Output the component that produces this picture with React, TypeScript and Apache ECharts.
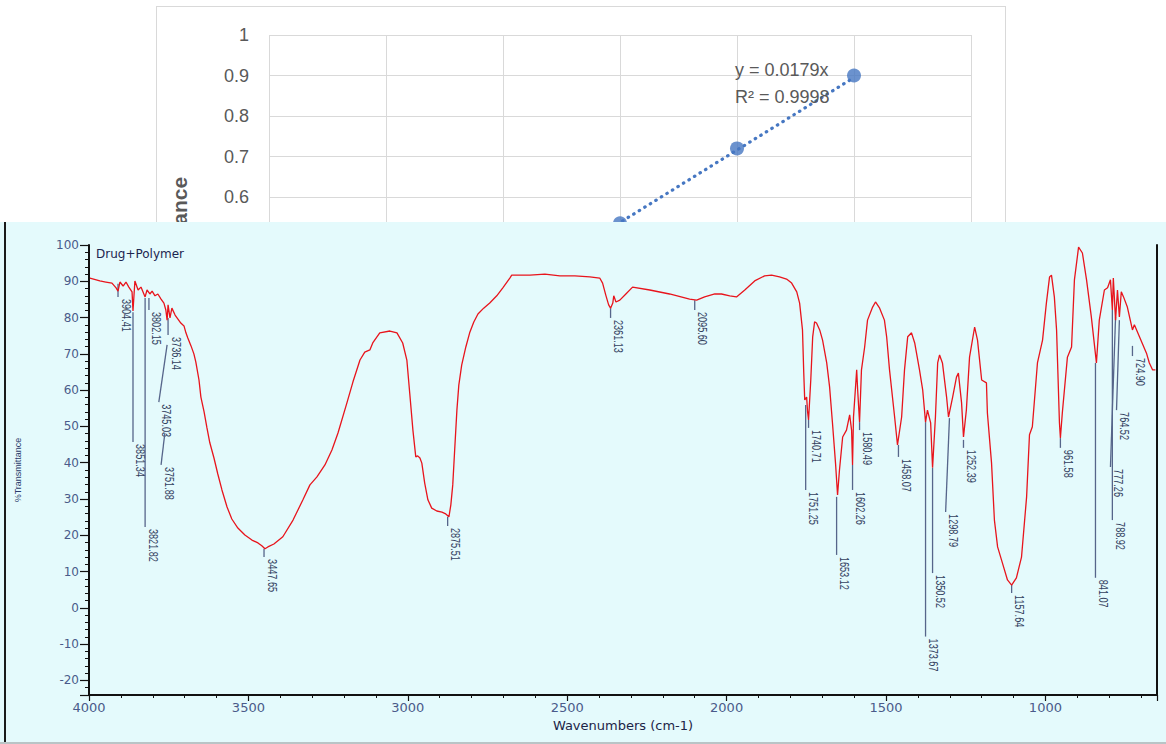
import React, { useEffect, useRef } from "react";
import * as echarts from "echarts";

// ---------- calibration chart (top, partly covered) ----------
const calConc = [30, 40, 50];
const calAbs = [0.535, 0.72, 0.9];
const trendConc = [0, 50];
const trendAbs = [0, 0.895];
const equationLines = ["y = 0.0179x", "R² = 0.9998"];

// ---------- FTIR spectrum ----------
const wavenumbers = [
  3997, 3966, 3947, 3928, 3915, 3909, 3903, 3893, 3884, 3875,
  3865, 3862, 3856, 3846, 3837, 3824, 3818, 3809, 3802, 3793,
  3784, 3774, 3765, 3759, 3755, 3752, 3746, 3740, 3730, 3721,
  3712, 3702, 3696, 3690, 3680, 3671, 3665, 3655, 3649, 3639,
  3630, 3621, 3608, 3596, 3583, 3567, 3552, 3533, 3511, 3489,
  3470, 3458, 3448, 3439, 3420, 3392, 3360, 3329, 3307, 3285,
  3260, 3238, 3219, 3191, 3172, 3150, 3135, 3119, 3110, 3088,
  3056, 3034, 3016, 3003, 2994, 2984, 2975, 2969, 2962, 2956,
  2947, 2937, 2925, 2909, 2893, 2881, 2871, 2865, 2859, 2853,
  2846, 2840, 2831, 2818, 2806, 2793, 2780, 2762, 2743, 2721,
  2702, 2680, 2674, 2617, 2570, 2523, 2476, 2429, 2398, 2389,
  2379, 2370, 2364, 2357, 2354, 2347, 2335, 2316, 2295, 2241,
  2179, 2116, 2094, 2069, 2037, 2016, 1990, 1969, 1943, 1912,
  1881, 1859, 1834, 1812, 1796, 1780, 1771, 1762, 1758, 1755,
  1749, 1746, 1743, 1736, 1730, 1724, 1718, 1708, 1699, 1686,
  1677, 1668, 1658, 1652, 1646, 1636, 1624, 1614, 1608, 1605,
  1602, 1592, 1589, 1583, 1577, 1567, 1558, 1542, 1533, 1520,
  1505, 1498, 1489, 1473, 1464, 1451, 1442, 1432, 1420, 1410,
  1395, 1385, 1376, 1370, 1360, 1354, 1345, 1338, 1332, 1323,
  1310, 1304, 1291, 1279, 1273, 1263, 1257, 1248, 1238, 1222,
  1213, 1200, 1185, 1182, 1169, 1160, 1150, 1135, 1119, 1106,
  1091, 1075, 1059, 1050, 1041, 1025, 1009, 997, 987, 981,
  972, 965, 956, 953, 947, 931, 918, 909, 896, 884,
  871, 856, 840, 831, 815, 805, 796, 790, 787, 780,
  774, 768, 762, 755, 743, 727, 721, 705, 683, 674,
  664, 655,
];
const transmittance = [
  90.9, 90.1, 89.8, 89.5, 88.2, 87.3, 89.8, 88.7, 89.8, 88.4,
  87.1, 81.8, 90.1, 87.6, 88.4, 85.7, 87.6, 86.5, 87.3, 86.0,
  86.5, 85.1, 84.0, 82.1, 79.3, 83.5, 79.9, 82.6, 80.7, 79.6,
  78.5, 77.7, 75.8, 74.4, 72.2, 70.0, 67.8, 62.8, 58.1, 54.0,
  49.6, 45.5, 41.3, 36.9, 32.5, 27.8, 24.5, 22.0, 20.1, 18.7,
  17.9, 17.1, 16.3, 16.8, 17.6, 19.6, 24.2, 29.8, 33.9, 36.1,
  39.4, 43.5, 48.2, 56.5, 62.3, 68.3, 70.5, 71.1, 73.0, 75.8,
  76.3, 75.8, 73.0, 68.3, 59.2, 49.0, 41.6, 41.9, 41.3, 39.9,
  34.4, 29.8, 27.5, 26.7, 26.4, 25.9, 25.1, 28.4, 33.9, 43.5,
  54.5, 61.4, 66.9, 71.9, 75.8, 78.8, 81.0, 82.6, 84.0, 86.0,
  88.2, 90.9, 91.7, 91.7, 92.0, 91.5, 91.5, 91.2, 90.9, 89.5,
  86.2, 83.5, 82.6, 84.0, 86.0, 84.3, 84.8, 86.5, 88.4, 87.6,
  86.5, 85.1, 84.8, 85.7, 86.5, 86.5, 86.0, 85.7, 87.6, 90.1,
  91.5, 91.7, 91.2, 90.6, 89.5, 87.1, 84.0, 76.6, 64.7, 57.3,
  58.1, 54.0, 51.8, 62.8, 74.7, 78.8, 78.5, 76.6, 73.8, 67.5,
  60.9, 51.0, 39.4, 31.1, 38.0, 47.1, 49.0, 53.2, 49.0, 39.4,
  52.6, 65.6, 60.1, 51.2, 65.6, 71.9, 79.3, 82.9, 84.3, 82.6,
  79.3, 74.7, 65.6, 52.6, 44.9, 52.6, 65.6, 74.7, 75.8, 73.0,
  65.6, 60.1, 51.2, 54.5, 51.0, 38.6, 52.6, 67.5, 69.7, 67.5,
  58.1, 52.6, 58.1, 63.6, 64.7, 56.5, 47.1, 54.5, 69.1, 77.4,
  73.8, 62.8, 62.0, 53.7, 39.9, 24.2, 16.8, 12.4, 7.7, 6.3,
  8.3, 14.0, 30.6, 47.7, 49.9, 67.5, 73.8, 84.0, 91.2, 91.7,
  85.7, 76.6, 51.0, 46.8, 53.7, 69.1, 71.9, 90.4, 99.4, 97.8,
  90.4, 80.2, 67.5, 79.3, 87.6, 88.2, 90.4, 82.1, 90.9, 79.3,
  87.6, 80.2, 87.1, 85.7, 82.9, 76.6, 78.0, 74.7, 70.2, 67.5,
  65.6, 65.6,
];

// peak markers: leader line from (topWn, topT) to (botWn, botT), label below
const peakLabels = [
  "3904.41", "3851.34", "3821.82", "3802.15", "3736.14", "3745.03", "3751.88",
  "3447.65", "2875.51", "2361.13", "2095.60", "1751.25", "1740.71", "1653.12",
  "1602.26", "1580.49", "1458.07", "1373.67", "1350.52", "1298.79", "1252.39",
  "1157.64", "961.58", "841.07", "788.92", "777.26", "764.52", "724.90",
];
const peakTopWn = [3909, 3862, 3824, 3812, 3752, 3755, 3762, 3451, 2875, 2364, 2100, 1752, 1743, 1655, 1605, 1583, 1461, 1376, 1354, 1301, 1257, 1106, 953, 843, 790, 780, 768, 727];
const peakTopT = [89.3, 81.5, 85.4, 85.4, 79.9, 72.5, 48.2, 16.3, 25.1, 82.6, 84.8, 55.9, 51.8, 30.6, 39.4, 51.2, 44.9, 51.2, 38.6, 52.3, 46.3, 6.3, 46.8, 67.5, 82.1, 80.2, 79.3, 72.2];
const peakBotWn = [3909, 3862, 3824, 3812, 3752, 3781, 3774, 3451, 2875, 2364, 2100, 1752, 1743, 1655, 1605, 1583, 1461, 1376, 1354, 1313, 1257, 1106, 953, 843, 790, 796, 777, 727];
const peakBotT = [85.7, 45.7, 22.3, 82.1, 75.2, 56.7, 39.4, 14.0, 22.6, 79.9, 82.1, 32.5, 49.6, 14.6, 32.5, 49.0, 41.6, -7.9, 9.6, 26.4, 44.1, 4.1, 44.1, 8.3, 24.2, 38.8, 54.5, 69.4];

const spectrumTitle = "Drug+Polymer";

const excelFont = "'Liberation Sans', Arial, sans-serif";
const irFont = "'DejaVu Sans', sans-serif";

function TopChart() {
  const ref = useRef<HTMLDivElement>(null);
  useEffect(() => {
    const chart = echarts.init(ref.current!, null, { renderer: "svg" });
    chart.setOption({
      animation: false,
      backgroundColor: "#ffffff",
      grid: { left: 112, top: 28, width: 702, height: 405 },
      xAxis: {
        type: "value", min: 0, max: 60, interval: 10,
        axisLine: { show: false }, axisTick: { show: false }, axisLabel: { show: false },
        splitLine: { show: true, lineStyle: { color: "#d9d9d9", width: 1 } },
      },
      yAxis: {
        type: "value", min: 0, max: 1, interval: 0.1,
        name: "Absorbance", nameLocation: "middle", nameGap: 79,
        nameTextStyle: { fontSize: 21, fontWeight: "bold", color: "#595959", fontFamily: excelFont },
        axisLine: { show: false }, axisTick: { show: false },
        axisLabel: { color: "#595959", fontSize: 18, margin: 20, fontFamily: excelFont },
        splitLine: { show: true, lineStyle: { color: "#d9d9d9", width: 1 } },
      },
      series: [
        {
          type: "line",
          data: trendConc.map((c, i) => [c, trendAbs[i]]),
          symbol: "none",
          lineStyle: { color: "#4677c2", width: 3.2, type: [0.5, 6], cap: "round" },
          z: 2,
        },
        {
          type: "scatter",
          data: calConc.map((c, i) => [c, calAbs[i]]),
          symbolSize: 14,
          itemStyle: { color: "#4677c2" },
          z: 3,
        },
      ],
      graphic: equationLines.map((t, i) => ({
        type: "text",
        x: 578,
        y: 63 + i * 27,
        style: { text: t, fill: "#595959", fontSize: 18, fontFamily: excelFont, verticalAlign: "middle", align: "left" },
        z: 10,
      })),
    });
    return () => chart.dispose();
  }, []);
  return <div ref={ref} style={{ position: "absolute", left: 0, top: 0, width: 848, height: 478 }} />;
}

function SpectrumChart() {
  const ref = useRef<HTMLDivElement>(null);
  useEffect(() => {
    const chart = echarts.init(ref.current!, null, { renderer: "svg" });
    const axisColor = "#111111";
    const labelColor = "#4a5a8a";
    chart.setOption({
      animation: false,
      title: {
        text: spectrumTitle, left: 91, top: 21,
        textStyle: { fontSize: 12, fontWeight: "normal", color: "#1c2550", fontFamily: irFont },
      },
      grid: { left: 89, top: 23, width: 1068, height: 450 },
      xAxis: {
        type: "value", min: 650, max: 4000, inverse: true, splitNumber: 7,
        name: "Wavenumbers (cm-1)", nameLocation: "middle", nameGap: 19,
        nameTextStyle: { fontSize: 13, color: "#1c2447", fontFamily: irFont },
        axisLine: { show: true, onZero: false, lineStyle: { color: axisColor, width: 2 } },
        axisTick: { show: true, length: 6, lineStyle: { color: axisColor, width: 1.2 } },
        minorTick: { show: true, splitNumber: 5, length: 3, lineStyle: { color: axisColor, width: 1 } },
        axisLabel: {
          color: labelColor, fontSize: 13, margin: 6, fontFamily: irFont,
          formatter: (v: number) => (v % 500 === 0 ? String(v) : ""),
        },
        splitLine: { show: false },
      },
      yAxis: [
        {
          type: "value", min: -24, max: 100, splitNumber: 12,
          name: "%Transmittance", nameLocation: "middle", nameGap: 67,
          nameTextStyle: { fontSize: 9, color: "#2a3a6a", fontFamily: excelFont },
          axisLine: { show: true, onZero: false, lineStyle: { color: axisColor, width: 2 } },
          axisTick: { show: true, length: 9, lineStyle: { color: axisColor, width: 1.2 } },
          axisLabel: {
            color: labelColor, fontSize: 12, margin: 10, fontFamily: irFont,
            formatter: (v: number) => (v % 10 === 0 ? String(v) : ""),
          },
          splitLine: { show: false },
        },
        {
          type: "value", min: -24, max: 100, interval: 2, position: "left",
          axisLine: { show: false, onZero: false },
          axisTick: { show: true, length: 4, lineStyle: { color: axisColor, width: 1 } },
          axisLabel: { show: false },
          splitLine: { show: false },
        },
        {
          type: "value", min: -24, max: 100, position: "right",
          axisLine: { show: true, onZero: false, lineStyle: { color: axisColor, width: 2 } },
          axisTick: { show: false }, axisLabel: { show: false }, splitLine: { show: false },
        },
      ],
      series: [
        {
          type: "custom",
          xAxisIndex: 0, yAxisIndex: 0,
          data: peakLabels.map((_, i) => [peakTopWn[i], peakTopT[i], peakBotWn[i], peakBotT[i]]),
          renderItem: (params: any, api: any) => {
            const i = params.dataIndex;
            const p1 = api.coord([api.value(0), api.value(1)]);
            const p2 = api.coord([api.value(2), api.value(3)]);
            return {
              type: "group",
              children: [
                { type: "line", shape: { x1: p1[0], y1: p1[1], x2: p2[0], y2: p2[1] }, style: { stroke: "#56658a", lineWidth: 1.3 } },
                {
                  type: "text", x: p2[0] + 8, y: p2[1] + 2, rotation: -Math.PI / 2, scaleX: 0.76, scaleY: 1,
                  style: { text: peakLabels[i], fill: "#33415f", fontSize: 12, fontFamily: excelFont, align: "left", verticalAlign: "middle" },
                },
              ],
            };
          },
          z: 2,
        },
        {
          type: "line",
          xAxisIndex: 0, yAxisIndex: 0,
          data: wavenumbers.map((w, i) => [w, transmittance[i]]),
          symbol: "none",
          lineStyle: { color: "#e8141c", width: 1.3 },
          z: 3,
        },
      ],
    });
    return () => chart.dispose();
  }, []);
  return <div ref={ref} style={{ position: "absolute", left: 0, top: 0, width: 1166, height: 522 }} />;
}

export default function App() {
  return (
    <div style={{ position: "fixed", left: 0, top: 0, width: 1166, height: 744, background: "#ffffff", overflow: "hidden" }}>
      <div style={{ position: "absolute", left: 156, top: 6, width: 850, height: 480, border: "1px solid #d9d9d9", boxSizing: "border-box", background: "#fff", zIndex: 1 }}>
        <TopChart />
      </div>
      <div style={{ position: "absolute", left: 0, top: 222, width: 1166, height: 522, background: "#e4fafc", zIndex: 2 }}>
        <SpectrumChart />
        <div style={{ position: "absolute", left: 4, top: 0, width: 2, height: 522, background: "#1a1a1a" }} />
        <div style={{ position: "absolute", left: 0, top: 520, width: 1166, height: 2, background: "#b9c4c6" }} />
      </div>
    </div>
  );
}
